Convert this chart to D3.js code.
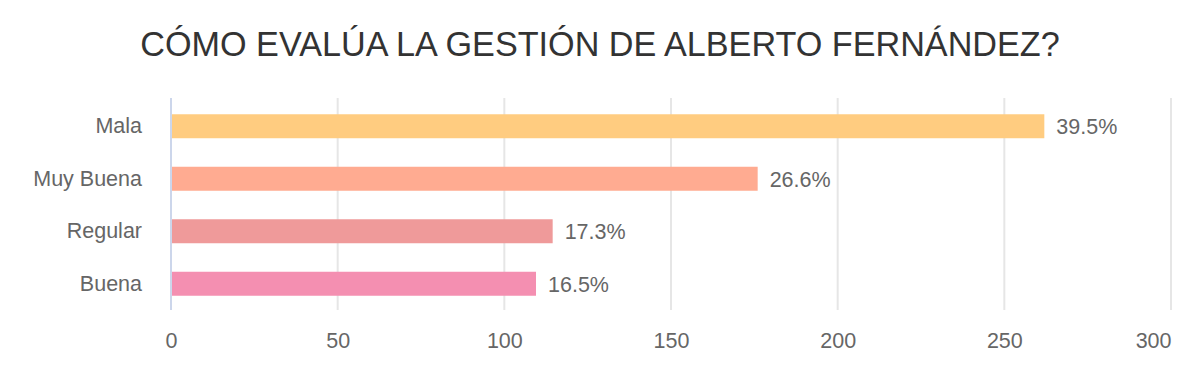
<!DOCTYPE html>
<html><head><meta charset="utf-8">
<script src="https://cdn.jsdelivr.net/npm/d3@7"></script>
<style>body{margin:0;background:#fff;}svg{display:block;font-family:"Liberation Sans",Arial,sans-serif;}</style>
</head><body><svg id="c" width="1200" height="380"></svg>
<script>
const title = "CÓMO EVALÚA LA GESTIÓN DE ALBERTO FERNÁNDEZ?";
const categories = ["Mala", "Muy Buena", "Regular", "Buena"];
const values = [262, 176, 114.5, 109.5];
const percentLabels = ["39.5%", "26.6%", "17.3%", "16.5%"];
const colors = ["#ffcc80", "#ffab91", "#ef9a9a", "#f48fb1"];
const xTicks = [0, 50, 100, 150, 200, 250, 300];

const FONT = "Liberation Sans, Arial, sans-serif";
const svg = d3.select("#c");
const m = {left: 171, right: 1171, top: 98, bottom: 310};
const x = d3.scaleLinear().domain([0, 300]).range([m.left, m.right]);
const y = d3.scaleBand().domain(categories).range([100, 310]).paddingInner(0.543).paddingOuter(0.2715);

svg.append("text").attr("x", 600).attr("y", 56).attr("text-anchor", "middle")
  .attr("font-size", 34.2).attr("fill", "#333").text(title);

// grid
svg.append("g").selectAll("line").data(xTicks.slice(1)).join("line")
  .attr("x1", d => x(d)).attr("x2", d => x(d))
  .attr("y1", m.top).attr("y2", m.bottom)
  .attr("stroke", "#e6e6e6").attr("stroke-width", 2);
// axis line at 0
svg.append("line").attr("x1", x(0)).attr("x2", x(0)).attr("y1", m.top).attr("y2", m.bottom)
  .attr("stroke", "#ccd6eb").attr("stroke-width", 2);

// x axis labels
const xa = d3.axisBottom(x).tickValues(xTicks).tickSize(0).tickPadding(0);
const gx = svg.append("g").attr("transform", `translate(0,348)`).call(xa);
gx.select(".domain").remove();
gx.selectAll("text").attr("font-size", 21.5).attr("fill", "#666").attr("font-family", FONT)
  .attr("dy", 0).attr("y", 0)
  .attr("text-anchor", d => d === xTicks[xTicks.length - 1] ? "end" : "middle");

// y axis labels
const ya = d3.axisLeft(y).tickSize(0).tickPadding(0);
const gy = svg.append("g").attr("transform", `translate(${m.left - 29},0)`).call(ya);
gy.select(".domain").remove();
gy.selectAll("text").attr("font-size", 21.5).attr("fill", "#666").attr("font-family", FONT);

// bars
svg.append("g").selectAll("rect").data(categories).join("rect")
  .attr("x", x(0) + 1).attr("y", d => y(d))
  .attr("width", (d, i) => x(values[i]) - x(0) - 1).attr("height", y.bandwidth())
  .attr("fill", (d, i) => colors[i]);

// data labels
svg.append("g").selectAll("text").data(categories).join("text")
  .attr("x", (d, i) => x(values[i]) + 12).attr("y", d => y(d) + y.bandwidth() / 2)
  .attr("dy", "0.38em").attr("font-size", 21.5).attr("fill", "#666").attr("font-family", FONT)
  .text((d, i) => percentLabels[i]);
</script></body></html>
